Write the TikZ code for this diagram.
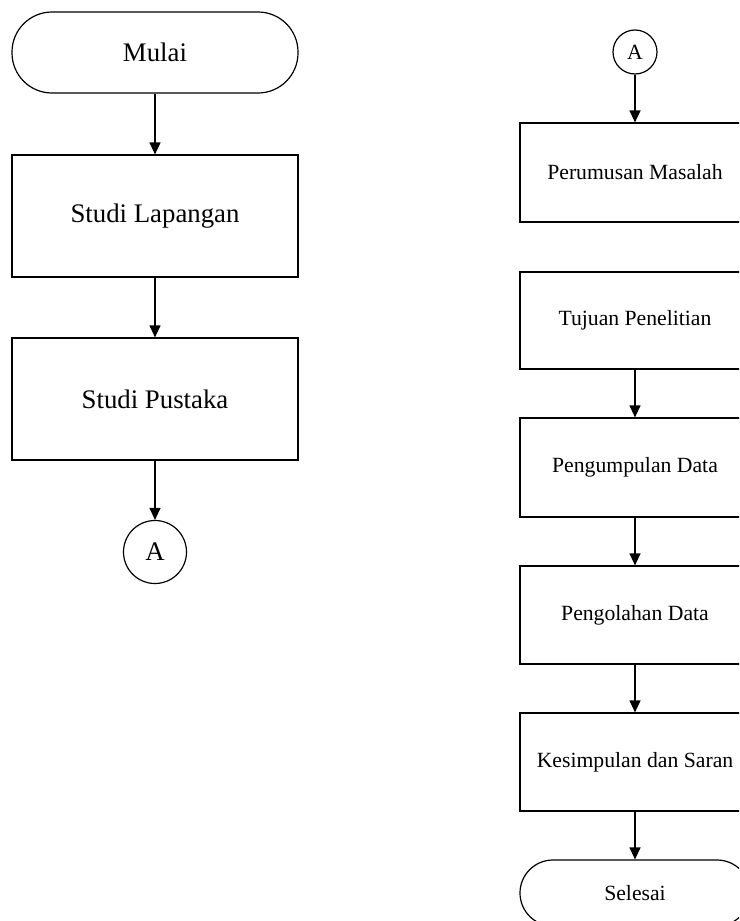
\documentclass[tikz,border=0pt]{standalone}
\usepackage{fontspec}
\setmainfont{Liberation Serif}
\usetikzlibrary{arrows.meta}
\begin{document}
\begin{tikzpicture}[x=1pt,y=-1pt,
  line width=1.2pt,
  big/.style={font=\fontsize{26.8}{30}\selectfont},
  small/.style={font=\fontsize{21.7}{25}\selectfont},
  procbox/.style={draw, rectangle, inner sep=0pt},
  termbox/.style={draw, rectangle, inner sep=0pt},
  conn/.style={draw, circle, inner sep=0pt},
  flow/.style={-{Triangle[length=12pt,width=11pt]}}
]
\clip (0,0) rectangle (739,921);
\fill[white] (0,0) rectangle (739,921);
% left column
\node[termbox, big, minimum width=286pt, minimum height=81pt, rounded corners=40pt] (mulai) at (155,52.5) {Mulai};
\node[procbox, big, minimum width=286pt, minimum height=122pt] (lap) at (155,216) {Studi Lapangan};
\node[procbox, big, minimum width=286pt, minimum height=122pt] (pus) at (155,399) {Studi Pustaka};
\node[conn, big, minimum size=63pt] (a1) at (155,552) {A};
\draw[flow] (mulai) -- (lap);
\draw[flow] (lap) -- (pus);
\draw[flow] (pus) -- (a1);
% right column
\node[conn, small, minimum size=44pt] (a2) at (635,52) {A};
\node[procbox, small, minimum width=230pt, minimum height=99pt] (rum) at (635,172.5) {Perumusan Masalah};
\node[procbox, small, minimum width=230pt, minimum height=97pt] (tuj) at (635,320.5) {Tujuan Penelitian};
\node[procbox, small, minimum width=230pt, minimum height=99pt] (kum) at (635,467.5) {Pengumpulan Data};
\node[procbox, small, minimum width=230pt, minimum height=98pt] (lah) at (635,615) {Pengolahan Data};
\node[procbox, small, minimum width=230pt, minimum height=98pt] (kes) at (635,762) {Kesimpulan dan Saran};
\node[termbox, small, minimum width=230pt, minimum height=66pt, rounded corners=33pt] (sel) at (635,893) {Selesai};
\draw[flow] (a2) -- (rum);
\draw[flow] (tuj) -- (kum);
\draw[flow] (kum) -- (lah);
\draw[flow] (lah) -- (kes);
\draw[flow] (kes) -- (sel);
\end{tikzpicture}
\end{document}
